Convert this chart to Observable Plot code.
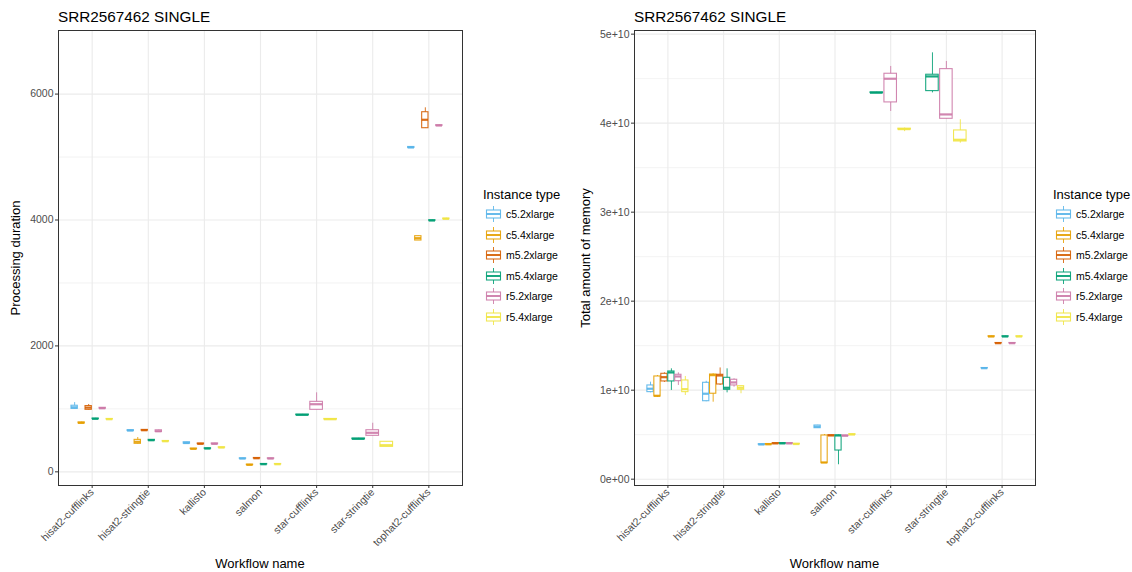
<!DOCTYPE html>
<html><head><meta charset="utf-8">
<script src="https://cdn.jsdelivr.net/npm/d3@7"></script>
<script src="https://cdn.jsdelivr.net/npm/@observablehq/plot@0.6"></script>
<style>
body{margin:0;background:#fff;font-family:"Liberation Sans",Arial,sans-serif;}
#root{position:relative;width:1132px;height:572px;overflow:hidden;background:#fff;}
.abs{position:absolute;white-space:nowrap;color:#000;}
.plot{position:absolute;top:0;}
</style></head><body><div id="root"></div>
<script>
const chartTitle = "SRR2567462 SINGLE";
const workflows = ["hisat2-cufflinks","hisat2-stringtie","kallisto","salmon","star-cufflinks","star-stringtie","tophat2-cufflinks"];
const instanceTypes = ["c5.2xlarge","c5.4xlarge","m5.2xlarge","m5.4xlarge","r5.2xlarge","r5.4xlarge"];
const instanceColors = ["#56B4E9","#E69F00","#D55E00","#009E73","#CC79A7","#F0E442"];

// [workflow, instance, min, q1, median, q3, max]  (seconds)
const durationStats = [
  ["hisat2-cufflinks","c5.2xlarge",1000,1000,1025,1050,1100],
  ["hisat2-cufflinks","c5.4xlarge",765,770,778,785,790],
  ["hisat2-cufflinks","m5.2xlarge",980,985,1020,1045,1070],
  ["hisat2-cufflinks","m5.4xlarge",835,838,842,846,850],
  ["hisat2-cufflinks","r5.2xlarge",1000,1003,1010,1017,1020],
  ["hisat2-cufflinks","r5.4xlarge",828,832,836,840,845],
  ["hisat2-stringtie","c5.2xlarge",645,648,656,662,668],
  ["hisat2-stringtie","c5.4xlarge",440,445,477,508,545],
  ["hisat2-stringtie","m5.2xlarge",650,655,661,666,670],
  ["hisat2-stringtie","m5.4xlarge",490,495,502,508,512],
  ["hisat2-stringtie","r5.2xlarge",630,633,645,660,665],
  ["hisat2-stringtie","r5.4xlarge",478,481,486,490,494],
  ["kallisto","c5.2xlarge",445,448,458,470,472],
  ["kallisto","c5.4xlarge",358,361,365,369,372],
  ["kallisto","m5.2xlarge",437,440,445,450,453],
  ["kallisto","m5.4xlarge",363,366,370,374,377],
  ["kallisto","r5.2xlarge",436,439,445,451,454],
  ["kallisto","r5.4xlarge",378,382,386,390,393],
  ["salmon","c5.2xlarge",205,207,211,215,218],
  ["salmon","c5.4xlarge",104,107,111,115,118],
  ["salmon","m5.2xlarge",210,212,216,220,222],
  ["salmon","m5.4xlarge",114,117,121,125,128],
  ["salmon","r5.2xlarge",205,207,211,215,217],
  ["salmon","r5.4xlarge",114,117,121,125,128],
  ["star-cufflinks","m5.4xlarge",898,901,905,909,912],
  ["star-cufflinks","r5.2xlarge",985,985,1074,1112,1255],
  ["star-cufflinks","r5.4xlarge",830,832,836,840,843],
  ["star-stringtie","m5.4xlarge",515,519,524,529,533],
  ["star-stringtie","r5.2xlarge",572,572,620,661,772],
  ["star-stringtie","r5.4xlarge",397,397,423,477,477],
  ["tophat2-cufflinks","c5.2xlarge",5140,5145,5152,5160,5165],
  ["tophat2-cufflinks","c5.4xlarge",3674,3674,3711,3743,3743],
  ["tophat2-cufflinks","m5.2xlarge",5458,5458,5592,5712,5782],
  ["tophat2-cufflinks","m5.4xlarge",3985,3988,3992,3996,4000],
  ["tophat2-cufflinks","r5.2xlarge",5492,5496,5501,5506,5510],
  ["tophat2-cufflinks","r5.4xlarge",4010,4014,4019,4023,4027]
];

// [workflow, instance, min, q1, median, q3, max]  (units of 1e10 bytes)
const memoryStats = [
  ["hisat2-cufflinks","c5.2xlarge",0.97,0.978,1.016,1.053,1.09],
  ["hisat2-cufflinks","c5.4xlarge",0.92,0.929,0.937,1.154,1.165],
  ["hisat2-cufflinks","m5.2xlarge",1.087,1.098,1.146,1.184,1.195],
  ["hisat2-cufflinks","m5.4xlarge",0.997,1.098,1.199,1.21,1.24],
  ["hisat2-cufflinks","r5.2xlarge",1.053,1.101,1.154,1.173,1.195],
  ["hisat2-cufflinks","r5.4xlarge",0.94,0.978,1.011,1.109,1.154],
  ["hisat2-stringtie","c5.2xlarge",0.87,0.876,0.96,1.083,1.10],
  ["hisat2-stringtie","c5.4xlarge",0.865,0.96,1.169,1.176,1.184],
  ["hisat2-stringtie","m5.2xlarge",1.053,1.064,1.165,1.173,1.25],
  ["hisat2-stringtie","m5.4xlarge",0.97,1.004,1.027,1.139,1.24],
  ["hisat2-stringtie","r5.2xlarge",1.034,1.053,1.087,1.117,1.128],
  ["hisat2-stringtie","r5.4xlarge",0.96,1.004,1.027,1.045,1.045],
  ["kallisto","c5.2xlarge",0.385,0.387,0.39,0.393,0.395],
  ["kallisto","c5.4xlarge",0.387,0.389,0.392,0.395,0.397],
  ["kallisto","m5.2xlarge",0.397,0.399,0.402,0.405,0.407],
  ["kallisto","m5.4xlarge",0.397,0.399,0.402,0.405,0.407],
  ["kallisto","r5.2xlarge",0.397,0.399,0.402,0.405,0.407],
  ["kallisto","r5.4xlarge",0.39,0.392,0.395,0.398,0.40],
  ["salmon","c5.2xlarge",0.57,0.573,0.59,0.603,0.605],
  ["salmon","c5.4xlarge",0.18,0.18,0.188,0.491,0.502],
  ["salmon","m5.2xlarge",0.487,0.488,0.491,0.494,0.495],
  ["salmon","m5.4xlarge",0.162,0.322,0.491,0.491,0.495],
  ["salmon","r5.2xlarge",0.484,0.485,0.488,0.491,0.492],
  ["salmon","r5.4xlarge",0.498,0.499,0.502,0.505,0.506],
  ["star-cufflinks","m5.4xlarge",4.336,4.338,4.342,4.346,4.348],
  ["star-cufflinks","r5.2xlarge",4.131,4.233,4.499,4.555,4.637],
  ["star-cufflinks","r5.4xlarge",3.905,3.928,3.933,3.938,3.945],
  ["star-stringtie","m5.4xlarge",4.34,4.36,4.525,4.544,4.79],
  ["star-stringtie","r5.2xlarge",4.049,4.049,4.098,4.607,4.693],
  ["star-stringtie","r5.4xlarge",3.775,3.794,3.813,3.918,4.038],
  ["tophat2-cufflinks","c5.2xlarge",1.243,1.245,1.247,1.249,1.251],
  ["tophat2-cufflinks","c5.4xlarge",1.599,1.601,1.603,1.605,1.607],
  ["tophat2-cufflinks","m5.2xlarge",1.524,1.526,1.528,1.53,1.532],
  ["tophat2-cufflinks","m5.4xlarge",1.599,1.601,1.603,1.605,1.607],
  ["tophat2-cufflinks","r5.2xlarge",1.524,1.526,1.528,1.53,1.532],
  ["tophat2-cufflinks","r5.4xlarge",1.599,1.601,1.603,1.605,1.607]
];

const durationTicks = [0, 2000, 4000, 6000];
const durationMinor = [1000, 3000, 5000];
const memoryTicks = [0, 1e10, 2e10, 3e10, 4e10, 5e10];
const memoryMinor = [0.5e10, 1.5e10, 2.5e10, 3.5e10, 4.5e10];

// dodge like ggplot: boxes share 0.75 of a category among present groups
function prep(stats, unit) {
  return stats.map(([w, inst, mn, q1, med, q3, mx]) => {
    const present = instanceTypes.filter(t => stats.some(s => s[0] === w && s[1] === t));
    const n = present.length, k = present.indexOf(inst);
    const slot = 0.75 / n;
    const xc = workflows.indexOf(w) - 0.375 + (k + 0.5) * slot;
    const hw = slot * 0.9 / 2;
    return {workflow: w, inst, xc, xl: xc - hw, xr: xc + hw,
      min: mn * unit, q1: q1 * unit, med: med * unit, q3: q3 * unit, max: mx * unit};
  });
}

function sciFormat(d) {
  if (d === 0) return "0e+00";
  const e = Math.floor(Math.log10(Math.abs(d)));
  const m = Math.round(d / Math.pow(10, e));
  return `${m}e${e < 0 ? "-" : "+"}${String(Math.abs(e)).padStart(2, "0")}`;
}

function panel({data, yDomain, yTicks, yMinor, yFormat, width, marginLeft, marginRight}) {
  const idx = d3.range(workflows.length);
  return Plot.plot({
    width, height: 572, marginTop: 30, marginBottom: 87, marginLeft, marginRight,
    style: {fontFamily: "'Liberation Sans', Arial, sans-serif", fontSize: "10.5px", background: "transparent", overflow: "visible"},
    x: {type: "linear", domain: [-0.6, 6.6]},
    y: {domain: yDomain},
    color: {domain: instanceTypes, range: instanceColors},
    marks: [
      Plot.gridY(yMinor, {stroke: "#ebebeb", strokeOpacity: 1, strokeWidth: 0.6}),
      Plot.gridY(yTicks, {stroke: "#ebebeb", strokeOpacity: 1, strokeWidth: 1.1}),
      Plot.gridX(idx, {stroke: "#ebebeb", strokeOpacity: 1, strokeWidth: 1.1}),
      Plot.ruleX(data, {x: "xc", y1: "min", y2: "max", stroke: "inst", strokeWidth: 1, strokeOpacity: 0.85}),
      Plot.rect(data, {x1: "xl", x2: "xr", y1: "q1", y2: "q3", fill: "white", stroke: "inst", strokeWidth: 1.1, strokeOpacity: 0.9}),
      Plot.ruleY(data, {y: "med", x1: "xl", x2: "xr", stroke: "inst", strokeWidth: 2.2, strokeOpacity: 0.9}),
      Plot.axisX(idx, {tickFormat: i => workflows[i], tickRotate: -45, tickSize: 3, tickPadding: 2, label: null, stroke: "#333", fill: "#4d4d4d", fontSize: 10.5}),
      Plot.axisY(yTicks, {tickFormat: yFormat, tickSize: 3, tickPadding: 2, label: null, stroke: "#333", fill: "#4d4d4d", fontSize: 10.5}),
      Plot.frame({stroke: "#333", strokeWidth: 1})
    ]
  });
}

const root = document.getElementById("root");

function addText(text, style) {
  const d = document.createElement("div");
  d.className = "abs";
  d.textContent = text;
  Object.assign(d.style, style);
  root.appendChild(d);
  return d;
}

function addLegend(left) {
  addText("Instance type", {left: left + "px", top: "187px", fontSize: "13px", lineHeight: "16px"});
  instanceTypes.forEach((t, i) => {
    const cy = 214 + i * 20.6;
    const c = instanceColors[i];
    const g = document.createElement("div");
    g.className = "abs";
    g.style.left = (left + 2) + "px";
    g.style.top = (cy - 9) + "px";
    g.innerHTML = `<svg width="17" height="18" style="display:block">
      <line x1="8.5" x2="8.5" y1="1" y2="17" stroke="${c}" stroke-opacity="0.85" stroke-width="1"/>
      <rect x="1.5" y="5" width="14" height="8" fill="white" stroke="${c}" stroke-opacity="0.9" stroke-width="1.1"/>
      <line x1="1.5" x2="15.5" y1="9" y2="9" stroke="${c}" stroke-opacity="0.9" stroke-width="2"/>
    </svg>`;
    root.appendChild(g);
    addText(t, {left: (left + 23) + "px", top: (cy - 7) + "px", fontSize: "10.5px", lineHeight: "14px"});
  });
}

// Left panel
const left = panel({
  data: prep(durationStats, 1), yDomain: [-217, 7010], yTicks: durationTicks, yMinor: durationMinor,
  yFormat: d => String(d), width: 475, marginLeft: 58, marginRight: 13
});
left.classList.add("plot");
left.style.left = "0px";
root.appendChild(left);

// Right panel
const right = panel({
  data: prep(memoryStats, 1e10), yDomain: [-0.071e10, 5.041e10], yTicks: memoryTicks, yMinor: memoryMinor,
  yFormat: sciFormat, width: 480, marginLeft: 68, marginRight: 11
});
right.classList.add("plot");
right.style.left = "566px";
root.appendChild(right);

// Titles
addText(chartTitle, {left: "58px", top: "8px", fontSize: "15.3px", lineHeight: "18px"});
addText(chartTitle, {left: "634px", top: "8px", fontSize: "15.3px", lineHeight: "18px"});

// Axis titles
function yTitle(text, cx) {
  addText(text, {left: cx + "px", top: "257.5px", fontSize: "13px", lineHeight: "16px",
    transform: "translate(-50%,-50%) rotate(-90deg)"});
}
yTitle("Processing duration", 16);
yTitle("Total amount of memory", 586);
function xTitle(text, cx) {
  addText(text, {left: cx + "px", top: "564px", fontSize: "13px", lineHeight: "16px",
    transform: "translate(-50%,-50%)"});
}
xTitle("Workflow name", 260);
xTitle("Workflow name", 834.5);

addLegend(483);
addLegend(1053);
</script></body></html>
